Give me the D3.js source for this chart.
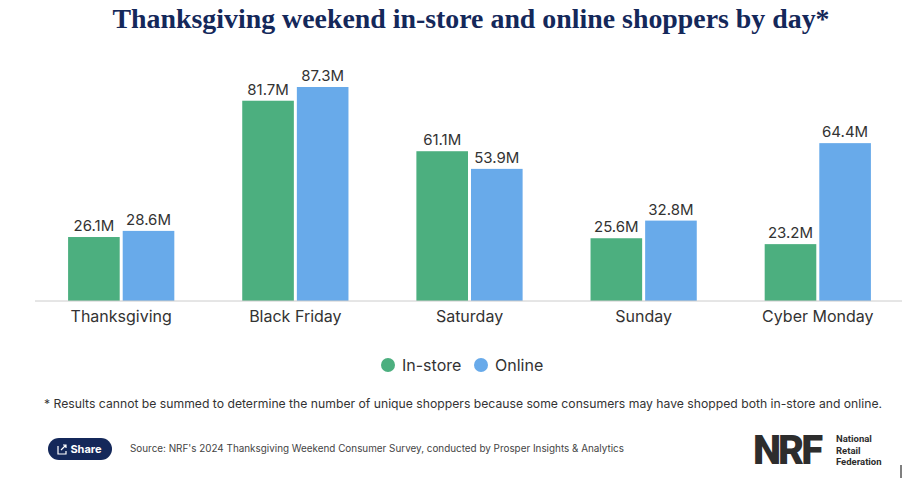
<!DOCTYPE html>
<html><head><meta charset="utf-8">
<script src="https://cdn.jsdelivr.net/npm/d3@7"></script>
<style>body{margin:0;background:#fff}</style>
</head><body>
<svg id="chart" width="902" height="485"></svg>
<script>
const days = ["Thanksgiving", "Black Friday", "Saturday", "Sunday", "Cyber Monday"];
const inStore = [26.1, 81.7, 61.1, 25.6, 23.2];
const online = [28.6, 87.3, 53.9, 32.8, 64.4];
const seriesNames = ["In-store", "Online"];
const colors = ["#4caf7f", "#68aaea"];

const svg = d3.select("#chart");
const BASE = 301;
const x = d3.scaleBand().domain(days).range([35, 904]).paddingInner(0.39).paddingOuter(0.19);
const y = d3.scaleLinear().domain([0, 87.3]).range([BASE, 87]);
const sub = d3.scaleBand().domain(seriesNames).range([0, x.bandwidth()]).paddingInner(0.055);

svg.append("text").attr("x", 471).attr("y", 28).attr("text-anchor", "middle")
  .attr("font-family", "Liberation Serif").attr("font-weight", "bold").attr("font-size", 28)
  .attr("fill", "#14285a").attr("textLength", 717).attr("lengthAdjust", "spacingAndGlyphs")
  .text("Thanksgiving weekend in-store and online shoppers by day*");

const rows = days.map((d, i) => ({ day: d, vals: [inStore[i], online[i]] }));
const g = svg.selectAll(".grp").data(rows).enter().append("g")
  .attr("transform", d => `translate(${x(d.day)},0)`);
g.selectAll("rect").data(d => d.vals.map((v, j) => ({ v, s: seriesNames[j], c: colors[j] })))
  .enter().append("rect")
  .attr("x", d => sub(d.s)).attr("width", sub.bandwidth())
  .attr("y", d => y(d.v)).attr("height", d => BASE - y(d.v)).attr("fill", d => d.c);
g.selectAll(".lbl").data(d => d.vals.map((v, j) => ({ v, s: seriesNames[j] })))
  .enter().append("text")
  .attr("x", d => sub(d.s) + sub.bandwidth() / 2).attr("y", d => y(d.v) - 6)
  .attr("text-anchor", "middle").attr("font-family", "Inter").attr("font-size", 15)
  .attr("fill", "#333").text(d => d.v.toFixed(1) + "M");

const xAxis = svg.append("g").attr("transform", `translate(0,${BASE})`)
  .call(d3.axisBottom(x).tickSize(0).tickPadding(10));
xAxis.select(".domain").attr("stroke", "#ccc").attr("d", "M35,0H902");
xAxis.selectAll("text").attr("font-family", "Inter").attr("font-size", 16).attr("fill", "#333");

const leg = svg.selectAll(".leg").data(seriesNames).enter().append("g")
  .attr("transform", (d, i) => `translate(${i ? 481 : 388},365)`);
leg.append("circle").attr("r", 7).attr("fill", (d, i) => colors[i]);
leg.append("text").attr("x", 14).attr("y", 5.5).attr("font-family", "Inter").attr("font-size", 16)
  .attr("fill", "#333").text(d => d);

svg.append("text").attr("x", 44).attr("y", 408).attr("font-family", "Inter").attr("font-size", 12.2)
  .attr("fill", "#333")
  .text("* Results cannot be summed to determine the number of unique shoppers because some consumers may have shopped both in-store and online.");

svg.append("rect").attr("x", 48).attr("y", 438).attr("width", 64).attr("height", 22).attr("rx", 11).attr("fill", "#14285a");
svg.append("text").attr("x", 86).attr("y", 453).attr("text-anchor", "middle").attr("font-family", "Inter")
  .attr("font-weight", "bold").attr("font-size", 11).attr("fill", "#fff").text("Share");
svg.append("path").attr("d", "M58,446v8h8v-3 M61,450l5,-5 M63,445h3v3").attr("stroke", "#fff").attr("fill", "none").attr("stroke-width", 1.2);
svg.append("text").attr("x", 130).attr("y", 452).attr("font-family", "Inter").attr("font-size", 9.9)
  .attr("fill", "#444").text("Source: NRF's 2024 Thanksgiving Weekend Consumer Survey, conducted by Prosper Insights & Analytics");

svg.append("text").attr("x", 753).attr("y", 464).attr("font-family", "Roboto").attr("font-weight", "900")
  .attr("font-size", 40).attr("letter-spacing", -3).attr("fill", "#2d2d2d").text("NRF");
["National", "Retail", "Federation"].forEach((t, i) =>
  svg.append("text").attr("x", 836).attr("y", 442 + i * 11.5).attr("font-family", "Roboto")
    .attr("font-weight", "bold").attr("font-size", 9.5).attr("fill", "#2d2d2d").text(t));
svg.append("line").attr("x1", 901).attr("x2", 901).attr("y1", 465).attr("y2", 478).attr("stroke", "#000");
</script>
</body></html>
